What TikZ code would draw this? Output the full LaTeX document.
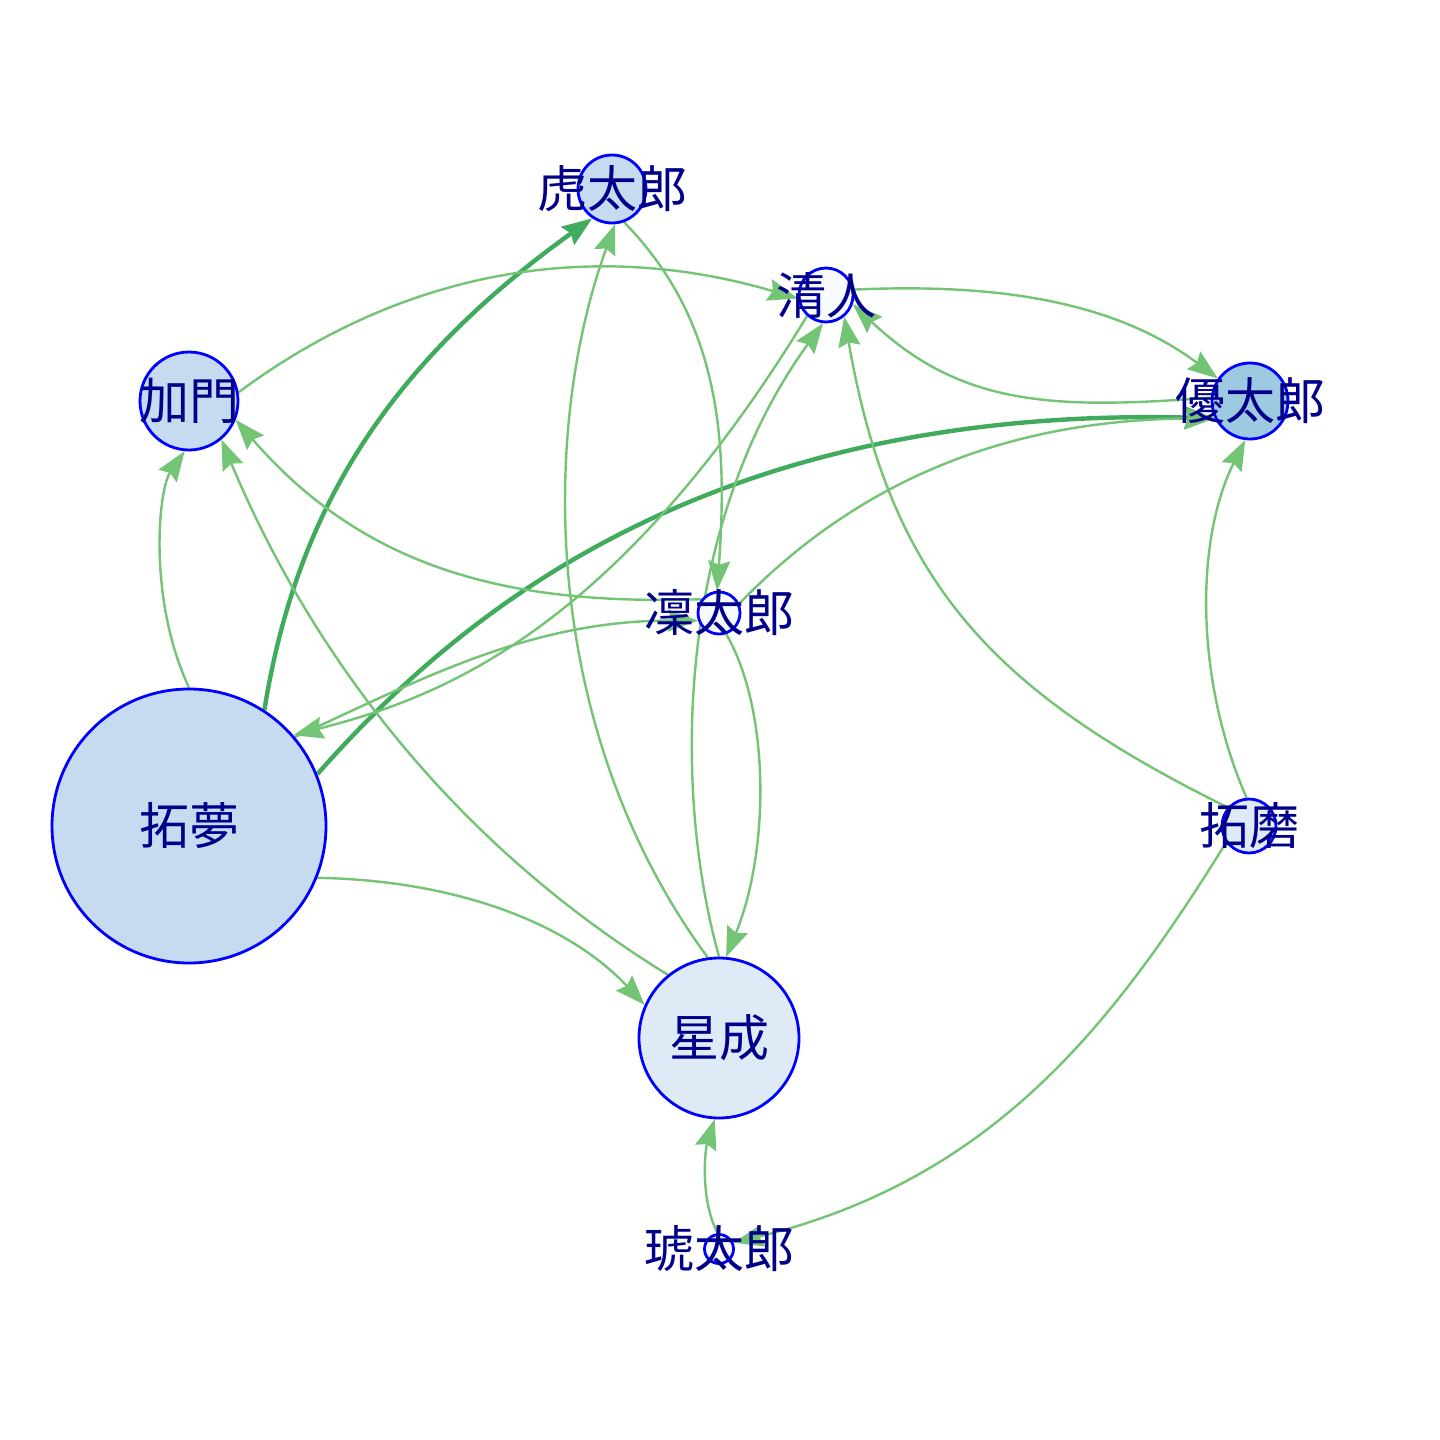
\documentclass[tikz,border=0pt]{standalone}
\usepackage{fontspec}
\newfontfamily\cjk{Noto Sans CJK JP}
\usetikzlibrary{arrows.meta}
\pgfdeclarelayer{bg}
\pgfdeclarelayer{edges}
\pgfsetlayers{bg,edges,main}
\definecolor{eg}{HTML}{74C476}
\definecolor{egd}{HTML}{41AB5D}
\definecolor{vb}{HTML}{0000FF}
\definecolor{lb}{HTML}{00008B}
\definecolor{fa}{HTML}{C6DBEF}
\definecolor{fb}{HTML}{9ECAE1}
\definecolor{fc}{HTML}{DEEBF7}
\definecolor{fd}{HTML}{F7FBFF}
\tikzset{
  vtx/.style={circle, draw=vb, line width=1.4pt, inner sep=0pt},
  lbl/.style={text=lb, font=\cjk\fontsize{25}{25}\selectfont, inner sep=0pt},
  edg/.style={draw=eg, line width=1.2pt, -{Stealth[length=15pt,width=11pt,inset=2pt]}},
  edgthick/.style={draw=egd, line width=2.2pt, -{Stealth[length=15pt,width=11pt,inset=2pt]}}
}
\begin{document}
\begin{tikzpicture}[x=0.5pt,y=-0.5pt]
\begin{pgfonlayer}{bg}
\fill[white] (0,0) rectangle (1440,1440);
\end{pgfonlayer}
\useasboundingbox (0,0) rectangle (1440,1440);

% vertices
\node[vtx, fill=fa, minimum size=137pt] (tm) at (189,826) {};
\node[vtx, fill=fc, minimum size=80pt] (ss) at (719,1038) {};
\node[vtx, fill=fa, minimum size=49pt] (km) at (189,401) {};
\node[vtx, fill=fa, minimum size=34pt] (kt) at (612,189) {};
\node[vtx, fill=fd, minimum size=27pt] (ky) at (826,295) {};
\node[vtx, fill=fb, minimum size=38pt] (yt) at (1250,401) {};
\node[vtx, fill=fd, minimum size=21pt] (rt) at (719,613) {};
\node[vtx, fill=fc, minimum size=27pt] (tk) at (1249,826) {};
\node[vtx, fill=fd, minimum size=14.5pt] (ko) at (719,1249) {};

% edges
\begin{pgfonlayer}{edges}
\draw[edgthick] (tm.57) .. controls (295,520) and (380,370) .. (kt.236);
\draw[edgthick] (tm.22) .. controls (445,630) and (690,405) .. (yt.206);
\draw[edg] (tm.90) .. controls (148,600) and (158,490) .. (km.265);
\draw[edg] (tm.338) .. controls (450,880) and (565,920) .. (ss.156);
\draw[edg] (km.10) .. controls (410,265) and (600,240) .. (ky.187);
\draw[edg] (rt.142) .. controls (520,605) and (370,575) .. (km.338);
\draw[edg] (ss.129) .. controls (400,810) and (280,580) .. (km.310);
\draw[edg] (ss.98) .. controls (540,730) and (540,430) .. (kt.275);
\draw[edg] (kt.290) .. controls (720,320) and (728,440) .. (rt.95);
\draw[edg] (ky.228) .. controls (610,640) and (430,700) .. (tm.41);
\draw[edg] (tm.40) .. controls (420,680) and (530,620) .. (rt.200);
\draw[edg] (ss.90) .. controls (670,780) and (680,520) .. (ky.264);
\draw[edg] (rt.289) .. controls (770,710) and (770,850) .. (ss.85);
\draw[edg] (tk.139) .. controls (990,690) and (890,580) .. (ky.310);
\draw[edg] (ky.11) .. controls (960,285) and (1100,290) .. (yt.145);
\draw[edg] (yt.175) .. controls (1050,410) and (960,405) .. (ky.341);
\draw[edg] (rt.25) .. controls (840,500) and (980,420) .. (yt.206);
\draw[edg] (tk.95) .. controls (1195,680) and (1195,540) .. (yt.263);
\draw[edg] (tk.216) .. controls (1110,1030) and (990,1180) .. (ko.23);
\draw[edg] (ko.95) .. controls (700,1200) and (705,1150) .. (ss.267);
\end{pgfonlayer}

% labels
\node[lbl] (tmL) at (tm) {拓夢};
\node[lbl] (ssL) at (ss) {星成};
\node[lbl] (kmL) at (km) {加門};
\node[lbl] (ktL) at (kt) {虎太郎};
\node[lbl] (kyL) at (ky) {清人};
\node[lbl] (ytL) at (yt) {優太郎};
\node[lbl] (rtL) at (rt) {凜太郎};
\node[lbl] (tkL) at (tk) {拓磨};
\node[lbl] (koL) at (ko) {琥太郎};
\end{tikzpicture}
\end{document}
